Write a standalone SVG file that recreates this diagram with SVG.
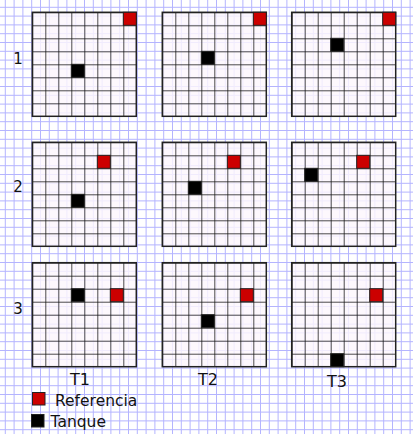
<svg xmlns="http://www.w3.org/2000/svg" width="413" height="434" viewBox="0 0 413 434">
<defs>
<pattern id="cells" x="0" y="0" width="13" height="13" patternUnits="userSpaceOnUse">
<path d="M0 0V13M0 0H13" stroke="#111" stroke-width="1.5" fill="none"/>
</pattern>
<g id="board">
<rect x="0" y="0" width="104" height="104" fill="#fdf6fd" fill-opacity="0.82"/>
<rect x="0" y="0" width="104" height="104" fill="url(#cells)"/>
<rect x="0" y="0" width="104" height="104" fill="none" stroke="#222" stroke-width="1.5"/>
</g>
</defs>
<style>
.lbl{font-family:"DejaVu Sans","Liberation Sans",sans-serif;font-size:15px;fill:#111}
.ref{fill:#cc0000;stroke:#222;stroke-width:1}
.tan{fill:#000;stroke:#222;stroke-width:1}
.paper{stroke:#b4b4ff;stroke-width:1;fill:none}
</style>
<rect width="413" height="434" fill="#fff"/>
<path class="paper" d="M5.3 0V434M14.1 0V434M22.9 0V434M31.7 0V434M40.5 0V434M49.3 0V434M58.1 0V434M66.9 0V434M75.7 0V434M84.5 0V434M93.3 0V434M102.1 0V434M110.9 0V434M119.7 0V434M128.5 0V434M137.3 0V434M146.1 0V434M154.9 0V434M163.7 0V434M172.5 0V434M181.3 0V434M190.1 0V434M198.9 0V434M207.7 0V434M216.5 0V434M225.3 0V434M234.1 0V434M242.9 0V434M251.7 0V434M260.5 0V434M269.3 0V434M278.1 0V434M286.9 0V434M295.7 0V434M304.5 0V434M313.3 0V434M322.1 0V434M330.9 0V434M339.7 0V434M348.5 0V434M357.3 0V434M366.1 0V434M374.9 0V434M383.7 0V434M392.5 0V434M401.3 0V434M410.1 0V434"/>
<path class="paper" d="M0 7.3H413M0 16.1H413M0 24.9H413M0 33.7H413M0 42.5H413M0 51.3H413M0 60.1H413M0 68.9H413M0 77.7H413M0 86.5H413M0 95.3H413M0 104.1H413M0 112.9H413M0 121.7H413M0 130.5H413M0 139.3H413M0 148.1H413M0 156.9H413M0 165.7H413M0 174.5H413M0 183.3H413M0 192.1H413M0 200.9H413M0 209.7H413M0 218.5H413M0 227.3H413M0 236.1H413M0 244.9H413M0 253.7H413M0 262.5H413M0 271.3H413M0 280.1H413M0 288.9H413M0 297.7H413M0 306.5H413M0 315.3H413M0 324.1H413M0 332.9H413M0 341.7H413M0 350.5H413M0 359.3H413M0 368.1H413M0 376.9H413M0 385.7H413M0 394.5H413M0 403.3H413M0 412.1H413M0 420.9H413M0 429.7H413"/>

<g id="r1c1" transform="translate(32.3,12.3)">
<use href="#board"/>
<rect class="ref" x="91" y="0" width="13" height="13"/>
<rect class="tan" x="39" y="52" width="13" height="13"/>
</g>
<g id="r1c2" transform="translate(162.3,12.3)">
<use href="#board"/>
<rect class="ref" x="91" y="0" width="13" height="13"/>
<rect class="tan" x="39" y="39" width="13" height="13"/>
</g>
<g id="r1c3" transform="translate(291.7,12.3)">
<use href="#board"/>
<rect class="ref" x="91" y="0" width="13" height="13"/>
<rect class="tan" x="39" y="26" width="13" height="13"/>
</g>

<g id="r2c1" transform="translate(32.3,142.3)">
<use href="#board"/>
<rect class="ref" x="65" y="13" width="13" height="13"/>
<rect class="tan" x="39" y="52" width="13" height="13"/>
</g>
<g id="r2c2" transform="translate(162.3,142.3)">
<use href="#board"/>
<rect class="ref" x="65" y="13" width="13" height="13"/>
<rect class="tan" x="26" y="39" width="13" height="13"/>
</g>
<g id="r2c3" transform="translate(291.7,142.3)">
<use href="#board"/>
<rect class="ref" x="65" y="13" width="13" height="13"/>
<rect class="tan" x="13" y="26" width="13" height="13"/>
</g>

<g id="r3c1" transform="translate(32.3,262.7)">
<use href="#board"/>
<rect class="ref" x="78" y="26" width="13" height="13"/>
<rect class="tan" x="39" y="26" width="13" height="13"/>
</g>
<g id="r3c2" transform="translate(162.3,262.7)">
<use href="#board"/>
<rect class="ref" x="78" y="26" width="13" height="13"/>
<rect class="tan" x="39" y="52" width="13" height="13"/>
</g>
<g id="r3c3" transform="translate(291.7,262.7)">
<use href="#board"/>
<rect class="ref" x="78" y="26" width="13" height="13"/>
<rect class="tan" x="39" y="91" width="13" height="13"/>
</g>

<g id="labels">
<text class="lbl" x="18" y="63.5" text-anchor="middle">1</text>
<text class="lbl" x="18" y="192" text-anchor="middle">2</text>
<text class="lbl" x="18" y="313.5" text-anchor="middle">3</text>
<text class="lbl" x="80" y="385" text-anchor="middle" style="font-size:16px">T1</text>
<text class="lbl" x="208" y="385" text-anchor="middle" style="font-size:16px">T2</text>
<text class="lbl" x="337" y="387" text-anchor="middle" style="font-size:16px">T3</text>
</g>
<g id="legend">
<rect class="ref" x="32.5" y="392.5" width="12.5" height="12.5"/>
<rect class="tan" x="31.5" y="414.5" width="12.5" height="12.5"/>
<text class="lbl" x="55" y="406" style="font-size:15.5px">Referencia</text>
<text class="lbl" x="50.5" y="427" style="font-size:15.5px">Tanque</text>
</g>
</svg>
